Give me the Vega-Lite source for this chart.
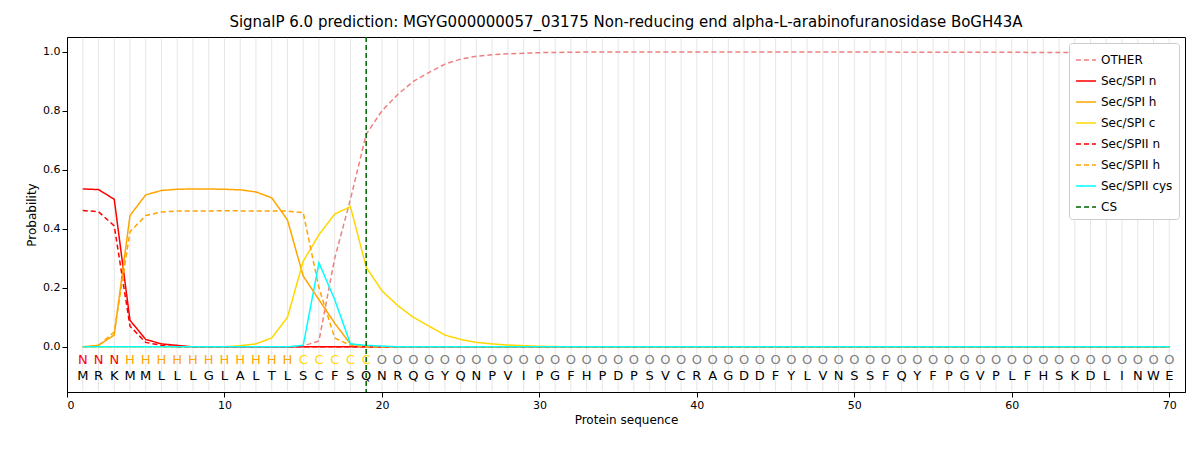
{
  "$schema": "https://vega.github.io/schema/vega-lite/v6.json",
  "width": 1118,
  "height": 355,
  "autosize": "none",
  "padding": {"left": 67, "top": 37, "right": 15, "bottom": 58},
  "title": {"text": "SignalP 6.0 prediction: MGYG000000057_03175 Non-reducing end alpha-L-arabinofuranosidase BoGH43A", "fontSize": 15, "fontWeight": "normal", "font": "DejaVu Sans", "offset": 6},
  "config": {"font": "DejaVu Sans", "view": {"stroke": "black"}, "axis": {"labelFontSize": 11, "titleFontSize": 12, "titleFontWeight": "normal", "grid": false, "tickColor": "black", "domainColor": "black", "labelColor": "black"}},
  "datasets": {
    "seq": [
      {"pos":1,"aa":"M","lab":"N"},{"pos":2,"aa":"R","lab":"N"},{"pos":3,"aa":"K","lab":"N"},{"pos":4,"aa":"M","lab":"H"},{"pos":5,"aa":"M","lab":"H"},
      {"pos":6,"aa":"L","lab":"H"},{"pos":7,"aa":"L","lab":"H"},{"pos":8,"aa":"L","lab":"H"},{"pos":9,"aa":"G","lab":"H"},{"pos":10,"aa":"L","lab":"H"},
      {"pos":11,"aa":"A","lab":"H"},{"pos":12,"aa":"L","lab":"H"},{"pos":13,"aa":"T","lab":"H"},{"pos":14,"aa":"L","lab":"H"},{"pos":15,"aa":"S","lab":"C"},
      {"pos":16,"aa":"C","lab":"C"},{"pos":17,"aa":"F","lab":"C"},{"pos":18,"aa":"S","lab":"C"},{"pos":19,"aa":"Q","lab":"C"},{"pos":20,"aa":"N","lab":"O"},
      {"pos":21,"aa":"R","lab":"O"},{"pos":22,"aa":"Q","lab":"O"},{"pos":23,"aa":"G","lab":"O"},{"pos":24,"aa":"Y","lab":"O"},{"pos":25,"aa":"Q","lab":"O"},
      {"pos":26,"aa":"N","lab":"O"},{"pos":27,"aa":"P","lab":"O"},{"pos":28,"aa":"V","lab":"O"},{"pos":29,"aa":"I","lab":"O"},{"pos":30,"aa":"P","lab":"O"},
      {"pos":31,"aa":"G","lab":"O"},{"pos":32,"aa":"F","lab":"O"},{"pos":33,"aa":"H","lab":"O"},{"pos":34,"aa":"P","lab":"O"},{"pos":35,"aa":"D","lab":"O"},
      {"pos":36,"aa":"P","lab":"O"},{"pos":37,"aa":"S","lab":"O"},{"pos":38,"aa":"V","lab":"O"},{"pos":39,"aa":"C","lab":"O"},{"pos":40,"aa":"R","lab":"O"},
      {"pos":41,"aa":"A","lab":"O"},{"pos":42,"aa":"G","lab":"O"},{"pos":43,"aa":"D","lab":"O"},{"pos":44,"aa":"D","lab":"O"},{"pos":45,"aa":"F","lab":"O"},
      {"pos":46,"aa":"Y","lab":"O"},{"pos":47,"aa":"L","lab":"O"},{"pos":48,"aa":"V","lab":"O"},{"pos":49,"aa":"N","lab":"O"},{"pos":50,"aa":"S","lab":"O"},
      {"pos":51,"aa":"S","lab":"O"},{"pos":52,"aa":"F","lab":"O"},{"pos":53,"aa":"Q","lab":"O"},{"pos":54,"aa":"Y","lab":"O"},{"pos":55,"aa":"F","lab":"O"},
      {"pos":56,"aa":"P","lab":"O"},{"pos":57,"aa":"G","lab":"O"},{"pos":58,"aa":"V","lab":"O"},{"pos":59,"aa":"P","lab":"O"},{"pos":60,"aa":"L","lab":"O"},
      {"pos":61,"aa":"F","lab":"O"},{"pos":62,"aa":"H","lab":"O"},{"pos":63,"aa":"S","lab":"O"},{"pos":64,"aa":"K","lab":"O"},{"pos":65,"aa":"D","lab":"O"},
      {"pos":66,"aa":"L","lab":"O"},{"pos":67,"aa":"I","lab":"O"},{"pos":68,"aa":"N","lab":"O"},{"pos":69,"aa":"W","lab":"O"},{"pos":70,"aa":"E","lab":"O"}
    ],
    "prob": [
      {"s":"OTHER","pos":1,"p":0},{"s":"OTHER","pos":14,"p":0},{"s":"OTHER","pos":15,"p":0.003},{"s":"OTHER","pos":16,"p":0.02},{"s":"OTHER","pos":17,"p":0.3},
      {"s":"OTHER","pos":18,"p":0.5},{"s":"OTHER","pos":19,"p":0.72},{"s":"OTHER","pos":20,"p":0.8},{"s":"OTHER","pos":21,"p":0.855},{"s":"OTHER","pos":22,"p":0.9},
      {"s":"OTHER","pos":23,"p":0.93},{"s":"OTHER","pos":24,"p":0.958},{"s":"OTHER","pos":25,"p":0.975},{"s":"OTHER","pos":26,"p":0.985},{"s":"OTHER","pos":27,"p":0.99},
      {"s":"OTHER","pos":28,"p":0.993},{"s":"OTHER","pos":29,"p":0.995},{"s":"OTHER","pos":30,"p":0.997},{"s":"OTHER","pos":33,"p":0.999},{"s":"OTHER","pos":50,"p":0.999},{"s":"OTHER","pos":70,"p":0.997},

      {"s":"Sec/SPI n","pos":1,"p":0.535},{"s":"Sec/SPI n","pos":2,"p":0.533},{"s":"Sec/SPI n","pos":3,"p":0.5},{"s":"Sec/SPI n","pos":4,"p":0.09},
      {"s":"Sec/SPI n","pos":5,"p":0.025},{"s":"Sec/SPI n","pos":6,"p":0.01},{"s":"Sec/SPI n","pos":7,"p":0.005},{"s":"Sec/SPI n","pos":8,"p":0},{"s":"Sec/SPI n","pos":70,"p":0},

      {"s":"Sec/SPI h","pos":1,"p":0},{"s":"Sec/SPI h","pos":2,"p":0.005},{"s":"Sec/SPI h","pos":3,"p":0.04},{"s":"Sec/SPI h","pos":4,"p":0.445},
      {"s":"Sec/SPI h","pos":5,"p":0.515},{"s":"Sec/SPI h","pos":6,"p":0.53},{"s":"Sec/SPI h","pos":7,"p":0.534},{"s":"Sec/SPI h","pos":8,"p":0.535},
      {"s":"Sec/SPI h","pos":9,"p":0.535},{"s":"Sec/SPI h","pos":10,"p":0.534},{"s":"Sec/SPI h","pos":11,"p":0.532},{"s":"Sec/SPI h","pos":12,"p":0.525},
      {"s":"Sec/SPI h","pos":13,"p":0.505},{"s":"Sec/SPI h","pos":14,"p":0.43},{"s":"Sec/SPI h","pos":15,"p":0.24},{"s":"Sec/SPI h","pos":16,"p":0.16},
      {"s":"Sec/SPI h","pos":17,"p":0.08},{"s":"Sec/SPI h","pos":18,"p":0.01},{"s":"Sec/SPI h","pos":19,"p":0},{"s":"Sec/SPI h","pos":70,"p":0},

      {"s":"Sec/SPI c","pos":1,"p":0},{"s":"Sec/SPI c","pos":10,"p":0},{"s":"Sec/SPI c","pos":11,"p":0.004},{"s":"Sec/SPI c","pos":12,"p":0.01},
      {"s":"Sec/SPI c","pos":13,"p":0.03},{"s":"Sec/SPI c","pos":14,"p":0.1},{"s":"Sec/SPI c","pos":15,"p":0.29},{"s":"Sec/SPI c","pos":16,"p":0.38},
      {"s":"Sec/SPI c","pos":17,"p":0.45},{"s":"Sec/SPI c","pos":18,"p":0.475},{"s":"Sec/SPI c","pos":19,"p":0.27},{"s":"Sec/SPI c","pos":20,"p":0.19},
      {"s":"Sec/SPI c","pos":21,"p":0.14},{"s":"Sec/SPI c","pos":22,"p":0.1},{"s":"Sec/SPI c","pos":23,"p":0.07},{"s":"Sec/SPI c","pos":24,"p":0.04},
      {"s":"Sec/SPI c","pos":25,"p":0.025},{"s":"Sec/SPI c","pos":26,"p":0.015},{"s":"Sec/SPI c","pos":27,"p":0.01},{"s":"Sec/SPI c","pos":28,"p":0.006},
      {"s":"Sec/SPI c","pos":29,"p":0.004},{"s":"Sec/SPI c","pos":30,"p":0.002},{"s":"Sec/SPI c","pos":32,"p":0},{"s":"Sec/SPI c","pos":70,"p":0},

      {"s":"Sec/SPII n","pos":1,"p":0.462},{"s":"Sec/SPII n","pos":2,"p":0.458},{"s":"Sec/SPII n","pos":3,"p":0.41},{"s":"Sec/SPII n","pos":4,"p":0.07},
      {"s":"Sec/SPII n","pos":5,"p":0.015},{"s":"Sec/SPII n","pos":6,"p":0.005},{"s":"Sec/SPII n","pos":7,"p":0},{"s":"Sec/SPII n","pos":70,"p":0},

      {"s":"Sec/SPII h","pos":1,"p":0},{"s":"Sec/SPII h","pos":2,"p":0.005},{"s":"Sec/SPII h","pos":3,"p":0.05},{"s":"Sec/SPII h","pos":4,"p":0.39},
      {"s":"Sec/SPII h","pos":5,"p":0.445},{"s":"Sec/SPII h","pos":6,"p":0.457},{"s":"Sec/SPII h","pos":7,"p":0.46},{"s":"Sec/SPII h","pos":10,"p":0.461},
      {"s":"Sec/SPII h","pos":14,"p":0.46},{"s":"Sec/SPII h","pos":15,"p":0.455},{"s":"Sec/SPII h","pos":16,"p":0.2},{"s":"Sec/SPII h","pos":17,"p":0.03},
      {"s":"Sec/SPII h","pos":18,"p":0.005},{"s":"Sec/SPII h","pos":19,"p":0},{"s":"Sec/SPII h","pos":70,"p":0},

      {"s":"Sec/SPII cys","pos":1,"p":0},{"s":"Sec/SPII cys","pos":14,"p":0},{"s":"Sec/SPII cys","pos":15,"p":0.005},{"s":"Sec/SPII cys","pos":16,"p":0.285},
      {"s":"Sec/SPII cys","pos":17,"p":0.16},{"s":"Sec/SPII cys","pos":18,"p":0.01},{"s":"Sec/SPII cys","pos":19,"p":0.005},{"s":"Sec/SPII cys","pos":21,"p":0},{"s":"Sec/SPII cys","pos":70,"p":0}
    ],
    "cs": [{"s":"CS","pos":19}]
  },
  "layer": [
    {
      "data": {"name": "seq"},
      "mark": {"type": "rule", "color": "#e6e6e6", "strokeWidth": 1},
      "encoding": {"x": {"field": "pos", "type": "quantitative"}, "y": {"datum": -0.15}, "y2": {"datum": 1.047}}
    },
    {
      "data": {"name": "prob"},
      "mark": {"type": "line", "strokeWidth": 1.5},
      "encoding": {
        "x": {"field": "pos", "type": "quantitative", "scale": {"domain": [0, 71], "nice": false, "zero": false}, "axis": {"values": [0,10,20,30,40,50,60,70], "title": "Protein sequence"}},
        "y": {"field": "p", "type": "quantitative", "scale": {"domain": [-0.153, 1.05], "nice": false, "zero": false}, "axis": {"values": [0,0.2,0.4,0.6,0.8,1.0], "format": ".1f", "title": "Probability"}},
        "color": {"field": "s", "type": "nominal", "title": null,
          "scale": {"domain": ["OTHER","Sec/SPI n","Sec/SPI h","Sec/SPI c","Sec/SPII n","Sec/SPII h","Sec/SPII cys","CS"],
                    "range": ["#f08080","#ff0000","#ffa500","#ffd700","#ff0000","#ffa500","#00ffff","#006400"]},
          "legend": {"orient": "top-right", "offset": 6, "symbolType": "stroke", "symbolStrokeWidth": 1.5, "symbolSize": 400, "labelFontSize": 12, "rowPadding": 4, "fillColor": "white", "strokeColor": "#cccccc", "padding": 6, "cornerRadius": 3}},
        "strokeDash": {"field": "s", "type": "nominal", "title": null,
          "scale": {"domain": ["OTHER","Sec/SPI n","Sec/SPI h","Sec/SPI c","Sec/SPII n","Sec/SPII h","Sec/SPII cys","CS"],
                    "range": [[5,3],[1,0],[1,0],[1,0],[5,3],[5,3],[1,0],[5,3]]}},
        "order": {"field": "pos", "type": "quantitative"}
      }
    },
    {
      "data": {"name": "cs"},
      "mark": {"type": "rule", "strokeWidth": 1.5},
      "encoding": {
        "x": {"field": "pos", "type": "quantitative"},
        "color": {"field": "s", "type": "nominal"},
        "strokeDash": {"field": "s", "type": "nominal"}
      }
    },
    {
      "data": {"name": "seq"},
      "mark": {"type": "text", "fontSize": 13, "baseline": "middle"},
      "encoding": {
        "x": {"field": "pos", "type": "quantitative"},
        "y": {"datum": -0.045},
        "text": {"field": "lab"},
        "color": {"condition": [
          {"test": "datum.lab === 'N'", "value": "#ff0000"},
          {"test": "datum.lab === 'H'", "value": "#ffa500"},
          {"test": "datum.lab === 'C'", "value": "#ffd700"}], "value": "#808080"}
      }
    },
    {
      "data": {"name": "seq"},
      "mark": {"type": "text", "fontSize": 13, "baseline": "middle", "color": "black"},
      "encoding": {
        "x": {"field": "pos", "type": "quantitative"},
        "y": {"datum": -0.1},
        "text": {"field": "aa"}
      }
    }
  ]
}
